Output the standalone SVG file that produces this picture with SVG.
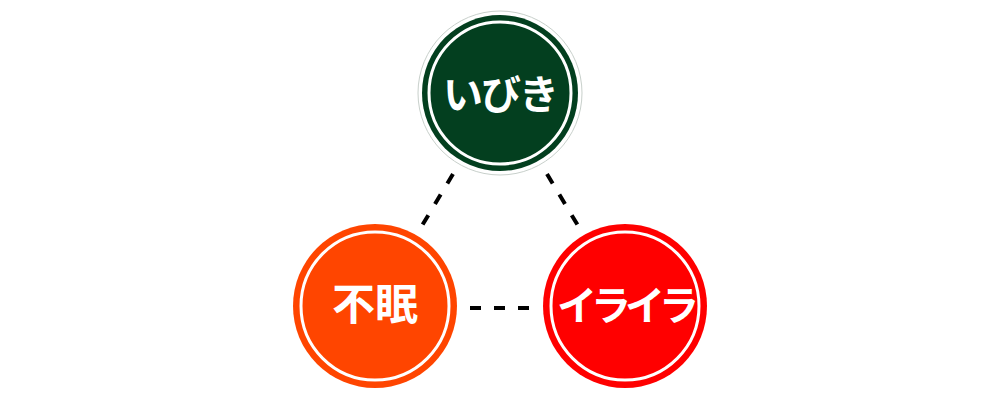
<svg xmlns="http://www.w3.org/2000/svg" width="1000" height="400" viewBox="0 0 1000 400">
<style>
.ring{fill:none;stroke:#fff;stroke-width:3}
.lbl{fill:#fff;font-family:"Noto Sans CJK JP","Noto Sans CJK SC",sans-serif;font-weight:700;text-anchor:middle}
.dash{stroke:#000;stroke-width:4;stroke-dasharray:11 13;fill:none}
</style>
<rect width="1000" height="400" fill="#fff"/>
<g id="connectors">
<line class="dash" x1="453" y1="174" x2="420" y2="229"/>
<line class="dash" x1="547" y1="174" x2="580" y2="229"/>
<line class="dash" x1="470" y1="308" x2="532" y2="308"/>
</g>
<g id="node-ibiki">
<circle cx="500" cy="93" r="82" fill="#fff" stroke="#c8d0cb" stroke-width="1"/>
<circle cx="500" cy="93" r="78" fill="#033f1f"/>
<circle class="ring" cx="500" cy="93" r="71"/>
<text class="lbl" x="500" y="109" font-size="40" letter-spacing="-2">いびき</text>
</g>
<g id="node-fumin">
<circle cx="375" cy="306" r="82" fill="#ff4500"/>
<circle class="ring" cx="375" cy="306" r="74"/>
<text class="lbl" x="375" y="320" font-size="43">不眠</text>
</g>
<g id="node-iraira">
<circle cx="625" cy="306" r="82" fill="#ff0000"/>
<circle class="ring" cx="625" cy="306" r="74"/>
<text class="lbl" x="625" y="320" font-size="40" letter-spacing="-6">イライラ</text>
</g>
</svg>
